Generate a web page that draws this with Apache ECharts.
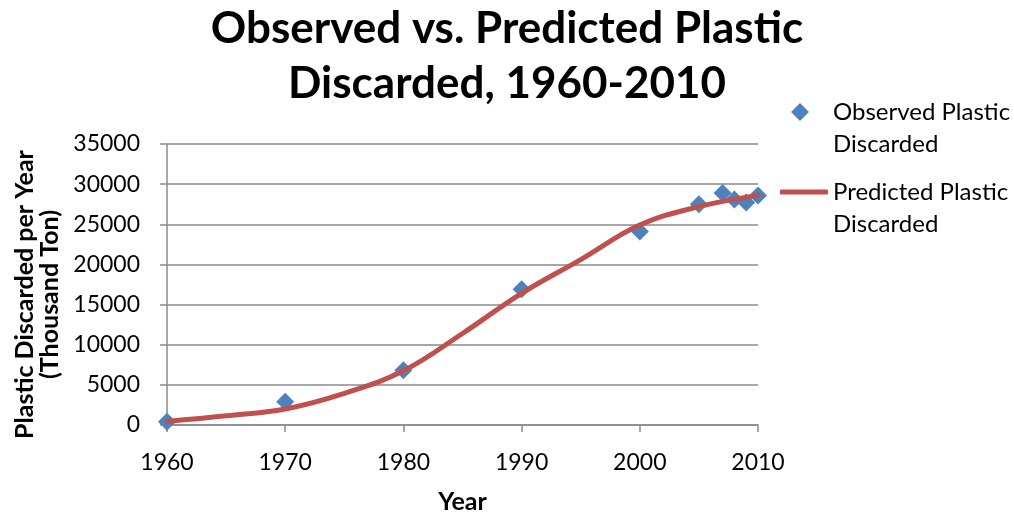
<!DOCTYPE html>
<html>
<head>
<meta charset="utf-8">
<script src="https://cdn.jsdelivr.net/npm/echarts@6/dist/echarts.min.js"></script>
<style>
html,body{margin:0;padding:0;background:#fff;}
#chart{width:1014px;height:514px;}
</style>
</head>
<body>
<div id="chart"></div>
<script>
// Observed data
const obsYears = [1960, 1970, 1980, 1990, 2000, 2005, 2007, 2008, 2009, 2010];
const observed = [390, 2900, 6830, 16900, 24100, 27500, 28900, 28100, 27700, 28600];
// Predicted curve
const predYears = [1960, 1965, 1970, 1975, 1980, 1985, 1990, 1995, 2000, 2005, 2010];
const predicted = [450, 1150, 2000, 3950, 6750, 11400, 16400, 20600, 24900, 27200, 28600];
// Labels
const titleText = 'Observed vs. Predicted Plastic\nDiscarded, 1960-2010';
const obsName = 'Observed Plastic\nDiscarded';
const predName = 'Predicted Plastic\nDiscarded';
const xName = 'Year';
const yName = 'Plastic Discarded per Year\n(Thousand Ton)';

const FONT = 'Lato';
const gridColor = '#8a8a8a';

const chart = echarts.init(document.getElementById('chart'), null, {renderer: 'canvas'});
chart.setOption({
  animation: false,
  backgroundColor: '#ffffff',
  title: {
    text: titleText,
    left: 'center',
    top: -4,
    padding: [5, 5, 5, 17],
    textStyle: {fontFamily: FONT, fontWeight: 'bold', fontSize: 44, lineHeight: 55, color: '#000'}
  },
  legend: [
    {
      data: [obsName],
      left: 791, top: 64, padding: 0,
      orient: 'vertical',
      selectedMode: false,
      itemWidth: 18, itemHeight: 18,
      icon: 'diamond',
      formatter: n => ' \n' + n,
      textStyle: {fontFamily: FONT, fontSize: 24, lineHeight: 32, color: '#000', padding: [0, 0, 0, 19]}
    },
    {
      data: [{name: predName, icon: 'roundRect'}],
      left: 780, top: 144, padding: 0,
      orient: 'vertical',
      selectedMode: false,
      itemWidth: 48, itemHeight: 5,
      formatter: n => ' \n' + n,
      itemStyle: {color: '#C0504D'},
      textStyle: {fontFamily: FONT, fontSize: 24, lineHeight: 32, color: '#000'}
    }
  ],
  grid: {left: 167, right: 256, top: 144, bottom: 89, outerBoundsMode: 'none'},
  xAxis: {
    type: 'value',
    min: 1960, max: 2010, interval: 10,
    name: xName,
    nameLocation: 'middle',
    nameGap: 64,
    nameTextStyle: {fontFamily: FONT, fontWeight: 'bold', fontSize: 25, color: '#000'},
    axisLine: {show: true, onZero: false, lineStyle: {color: gridColor, width: 1.5}},
    axisTick: {show: true, length: 7, lineStyle: {color: gridColor, width: 1.5}},
    axisLabel: {fontFamily: FONT, fontSize: 23, color: '#000', margin: 26, formatter: v => String(v)},
    splitLine: {show: false}
  },
  yAxis: {
    type: 'value',
    min: 0, max: 35000, interval: 5000,
    name: yName,
    nameLocation: 'middle',
    nameRotate: 90,
    nameGap: 93,
    nameTextStyle: {fontFamily: FONT, fontWeight: 'bold', fontSize: 25, lineHeight: 25, color: '#000', padding: [0, 20, 0, 0]},
    axisLine: {show: true, onZero: false, lineStyle: {color: gridColor, width: 1.5}},
    axisTick: {show: true, length: 7, lineStyle: {color: gridColor, width: 1.5}},
    axisLabel: {fontFamily: FONT, fontSize: 23, color: '#000', margin: 27, formatter: v => String(v)},
    splitLine: {show: true, lineStyle: {color: gridColor, width: 1.5}}
  },
  series: [
    {
      name: obsName,
      type: 'scatter',
      symbol: 'diamond',
      symbolSize: 18,
      itemStyle: {color: '#4F81BD', opacity: 1},
      data: obsYears.map((y, i) => [y, observed[i]])
    },
    {
      name: predName,
      type: 'line',
      smooth: 0.4,
      symbol: 'none',
      showSymbol: false,
      lineStyle: {color: '#C0504D', width: 5, cap: 'round'},
      itemStyle: {color: '#C0504D'},
      data: predYears.map((y, i) => [y, predicted[i]])
    }
  ]
});
</script>
</body>
</html>
